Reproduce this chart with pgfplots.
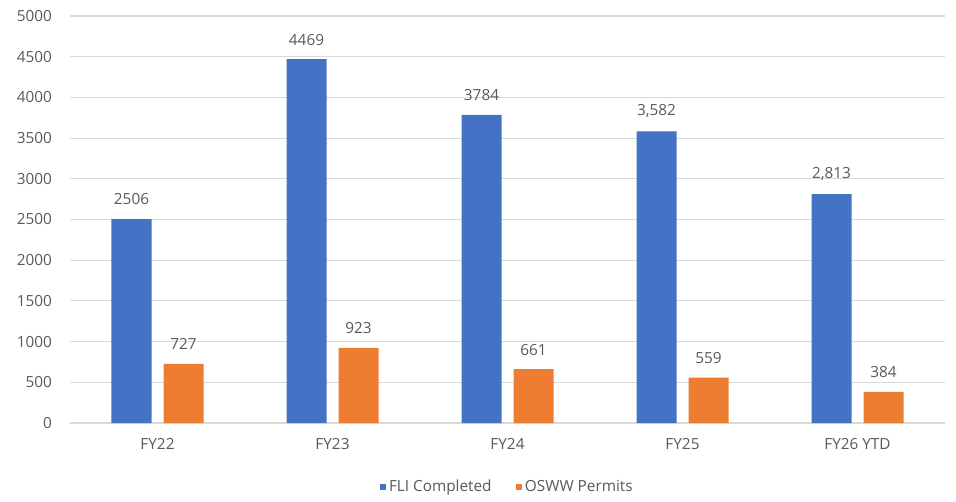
\documentclass[border=0pt]{standalone}
\usepackage{fontspec}
\setmainfont{Open Sans}
\usepackage{pgfplots}
\usepackage{pgfplotstable}
\pgfplotsset{compat=1.18}
\definecolor{fli}{HTML}{4472C4}
\definecolor{osww}{HTML}{ED7D31}
\definecolor{txt}{HTML}{595959}
\definecolor{grd}{HTML}{D9D9D9}

\pgfplotstableread{
x fli flilab osww oswwlab
0 2506 2506 727 727
1 4469 4469 923 923
2 3784 3784 661 661
3 3582 {3,582} 559 559
4 2813 {2,813} 384 384
}\counts

\begin{document}
\begin{tikzpicture}
\useasboundingbox (-52.5pt,-58.5pt) rectangle (664.5pt,317.25pt);
\begin{axis}[
    at={(0,0)}, anchor=south west,
    scale only axis,
    width=656.25pt, height=305.25pt,
    ybar=9pt, bar width=30pt,
    xmin=-0.5, xmax=4.5,
    ymin=0, ymax=5000,
    ytick distance=500,
    xtick=data,
    xticklabels={FY22,FY23,FY24,FY25,FY26 YTD},
    axis line style={draw=none},
    axis x line*=bottom,
    x axis line style={draw=grd, line width=0.8pt},
    ymajorgrids, grid style={grd, line width=0.8pt},
    major tick length=0pt,
    tick label style={font=\fontsize{11.5}{13}\selectfont, text=txt},
    /pgf/number format/assume math mode=true,
    /pgf/number format/1000 sep={},
    yticklabel style={xshift=-10pt},
    xticklabel style={yshift=-8pt},
    scaled ticks=false,
    nodes near coords,
    point meta=explicit symbolic,
    every node near coord/.append style={font=\fontsize{11.5}{13}\selectfont, text=txt, yshift=7pt},
    legend style={at={(0.5,-48pt)}, anchor=center, draw=none, legend columns=2,
        font=\fontsize{11.5}{13}\selectfont, text=txt,
        /tikz/every even column/.append style={column sep=16pt}},
    legend image code/.code={\fill[#1] (0pt,-2.5pt) rectangle (5pt,2.5pt);},
]
\addplot[fill=fli, draw=none] table[x=x, y=fli, meta=flilab] {\counts};
\addlegendentry{FLI Completed}
\addplot[fill=osww, draw=none] table[x=x, y=osww, meta=oswwlab] {\counts};
\addlegendentry{OSWW Permits}
\end{axis}
\end{tikzpicture}
\end{document}
